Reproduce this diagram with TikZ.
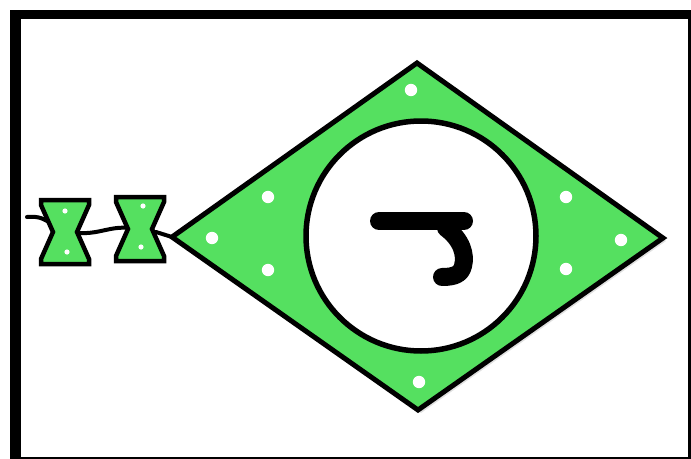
\documentclass[tikz,border=0pt]{standalone}
\definecolor{fgreen}{RGB}{85,224,96}
\tikzset{
  px/.style={x=1pt,y=-1pt},
  outline/.style={draw=black,line width=5pt,line join=miter},
  greenfill/.style={fill=fgreen},
  wdot/.style={fill=white,draw=none},
  conn/.style={draw=black,line width=4pt,line cap=round},
  glyph/.style={draw=black,line width=18pt,line cap=round,line join=round},
  shadow/.style={fill=black,opacity=0.12,draw=none}
}
\begin{document}
\begin{tikzpicture}[px]
\useasboundingbox (0,0) rectangle (691,458);
% frame
\fill[white] (0,0) rectangle (691,458);
\fill[black] (10,10) rectangle (700,470);
\fill[white] (21,19) rectangle (688,457);
% connector coordinates
\coordinate (cin) at (27,217);
\coordinate (h1l) at (52,224);
\coordinate (h1r) at (80,233);
\coordinate (h2l) at (130,228);
\coordinate (h2r) at (156,232);
\coordinate (dl) at (172,237);
\draw[conn] (cin) .. controls (40,216) and (44,219) .. (h1l);
\draw[conn] (h1r) .. controls (100,234) and (110,226) .. (h2l);
\draw[conn] (h2r) -- (dl);
% shadows
\fill[shadow] (175,240) -- (420,67) -- (666,241) -- (421,413) -- cycle;
% diamond
\path[outline,greenfill] (172,237) -- (417,63) -- (663,238) -- (418,410) -- cycle;
\node[draw=none] (diamond) at (418,237) {};
% hourglass 1
\path[outline,greenfill,line width=4.5pt] (41,200) -- (89,200) -- (89,205) -- (77,232) -- (89,259) -- (89,264) -- (41,264) -- (41,259) -- (53,232) -- (41,205) -- cycle;
\node (hg1) at (65,232) {};
% hourglass 2
\path[outline,greenfill,line width=4.5pt] (116,197) -- (164,197) -- (164,202) -- (152,229) -- (164,256) -- (164,261) -- (116,261) -- (116,256) -- (128,229) -- (116,202) -- cycle;
\node (hg2) at (140,229) {};
% dots
\foreach \p in {(411,90),(268,197),(212,238),(268,270),(566,197),(621,240),(566,269),(419,382)}
  \fill[wdot] \p circle (6.2);
\foreach \p in {(65,211),(67,252),(143,206),(141,247)}
  \fill[wdot] \p circle (2.6);
% circle
\path[draw=black,line width=5.5pt,fill=white] (421,236) circle (115);
\node (circ) at (421,236) {};
% glyph
\draw[glyph] (379,221) -- (464,221);
\draw[glyph] (446,228) .. controls (462,240) and (466,255) .. (463,266) .. controls (461,274) and (455,277) .. (442,277);
\end{tikzpicture}
\end{document}
